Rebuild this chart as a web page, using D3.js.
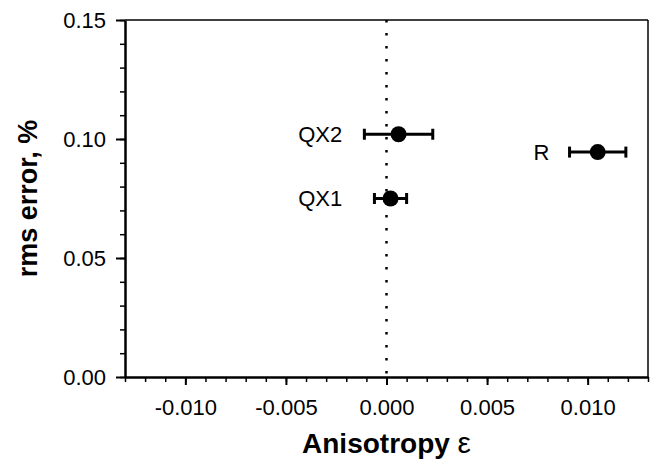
<!DOCTYPE html>
<html>
<head>
<meta charset="utf-8">
<script src="https://cdn.jsdelivr.net/npm/d3@7"></script>
<style>
body { margin: 0; background: #fff; }
text { font-family: "Liberation Sans", Arial, sans-serif; fill: #000; }
</style>
</head>
<body>
<div id="dataviz"></div>
<script>
// data
var names = ["QX2", "QX1", "R"];
var aniso = [0.0006, 0.0002, 0.0105];      // x, anisotropy
var anisoErr = [0.0017, 0.0008, 0.0014];   // half width of the x error bar
var rmsErr = [0.102, 0.075, 0.0945];       // y, rms error %
var xTicks = [-0.010, -0.005, 0.000, 0.005, 0.010];
var yTicks = [0.00, 0.05, 0.10, 0.15];
// where the right end of each label sits, in anisotropy units
var labelEnd = [-0.0022, -0.0022, 0.0081];

var W = 650, H = 469;
var margin = {top: 20, right: 2, bottom: 92, left: 125};
var width = W - margin.left - margin.right;
var height = H - margin.top - margin.bottom;

var svg = d3.select("#dataviz")
  .append("svg")
    .attr("width", W)
    .attr("height", H)
  .append("g")
    .attr("transform", "translate(" + margin.left + "," + margin.top + ")");

var x = d3.scaleLinear().domain([-0.013, 0.013]).range([0, width]);
var y = d3.scaleLinear().domain([0, 0.15]).range([height, 0]);

// frame (top and right thinner)
svg.append("line")
  .attr("x1", 0).attr("x2", width).attr("y1", 0).attr("y2", 0)
  .attr("stroke", "#000").attr("stroke-width", 1.5);
svg.append("line")
  .attr("x1", width).attr("x2", width).attr("y1", 0).attr("y2", height)
  .attr("stroke", "#000").attr("stroke-width", 1.5);

// minor ticks
var xMinor = d3.range(-13, 14).map(function(d){ return d / 1000; });
var yMinor = d3.range(0, 16).map(function(d){ return d / 100; });

svg.append("g")
  .attr("transform", "translate(0," + height + ")")
  .call(d3.axisBottom(x).tickValues(xMinor).tickSize(5).tickFormat(""))
  .call(function(g){ g.select(".domain").remove(); })
  .selectAll("line").attr("stroke-width", 1.5);

svg.append("g")
  .call(d3.axisLeft(y).tickValues(yMinor).tickSize(5).tickFormat(""))
  .call(function(g){ g.select(".domain").remove(); })
  .selectAll("line").attr("stroke-width", 1.5);

// major ticks + labels
var xAxis = svg.append("g")
  .attr("transform", "translate(0," + height + ")")
  .call(d3.axisBottom(x).tickValues(xTicks).tickSize(8).tickSizeOuter(0)
    .tickPadding(14).tickFormat(d3.format(".3f")));
xAxis.select(".domain").attr("stroke-width", 2.5);
xAxis.selectAll("line").attr("stroke-width", 2);
xAxis.selectAll("text").style("font-size", "22px").text(function(d){
  return d3.format(".3f")(d).replace("−", "-");
});

var yAxis = svg.append("g")
  .call(d3.axisLeft(y).tickValues(yTicks).tickSize(9).tickSizeOuter(0)
    .tickPadding(10).tickFormat(d3.format(".2f")));
yAxis.select(".domain").attr("stroke-width", 2.5);
yAxis.selectAll("line").attr("stroke-width", 2);
yAxis.selectAll("text").style("font-size", "22px");

// dotted zero line
svg.append("line")
  .attr("x1", x(0)).attr("x2", x(0))
  .attr("y1", 0).attr("y2", height)
  .attr("stroke", "#000")
  .attr("stroke-width", 2.5)
  .attr("stroke-dasharray", "2.5,10.5");

// points with error bars
var pts = names.map(function(n, i){
  return {name: n, x: aniso[i], e: anisoErr[i], y: rmsErr[i], lx: labelEnd[i]};
});

var g = svg.selectAll(".pt").data(pts).enter().append("g").classed("pt", true);

g.append("line")
  .attr("x1", function(d){ return x(d.x - d.e); })
  .attr("x2", function(d){ return x(d.x + d.e); })
  .attr("y1", function(d){ return y(d.y); })
  .attr("y2", function(d){ return y(d.y); })
  .attr("stroke", "#000").attr("stroke-width", 3);

[-1, 1].forEach(function(s){
  g.append("line")
    .attr("x1", function(d){ return x(d.x + s * d.e); })
    .attr("x2", function(d){ return x(d.x + s * d.e); })
    .attr("y1", function(d){ return y(d.y) - 5.5; })
    .attr("y2", function(d){ return y(d.y) + 5.5; })
    .attr("stroke", "#000").attr("stroke-width", 3);
});

g.append("circle")
  .attr("cx", function(d){ return x(d.x); })
  .attr("cy", function(d){ return y(d.y); })
  .attr("r", 8)
  .attr("fill", "#000");

g.append("text")
  .attr("x", function(d){ return x(d.lx); })
  .attr("y", function(d){ return y(d.y); })
  .attr("dy", "0.36em")
  .style("text-anchor", "end")
  .style("font-size", "22px")
  .text(function(d){ return d.name; });

// axis titles
var xt = svg.append("text")
  .attr("x", x(0))
  .attr("y", height + 76)
  .style("text-anchor", "middle")
  .style("font-size", "28px")
  .style("font-weight", "bold");
xt.append("tspan").text("Anisotropy ");
xt.append("tspan").style("font-weight", "normal").style("font-size", "30px").text("ε");

svg.append("text")
  .attr("transform", "translate(" + (-88) + "," + (height / 2) + ") rotate(-90)")
  .style("text-anchor", "middle")
  .style("font-size", "27px")
  .style("font-weight", "bold")
  .text("rms error, %");
</script>
</body>
</html>
